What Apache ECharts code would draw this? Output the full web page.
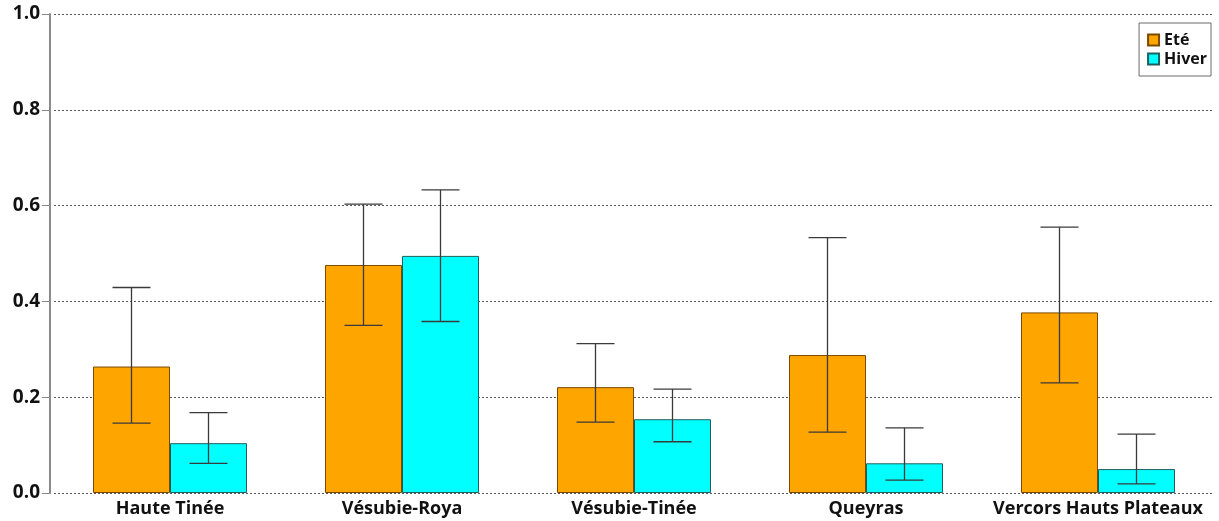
<!DOCTYPE html>
<html>
<head>
<meta charset="utf-8">
<script src="https://cdn.jsdelivr.net/npm/echarts@6/dist/echarts.min.js"></script>
<style>
  html, body { margin: 0; padding: 0; background: #fff; }
  #chart { width: 1219px; height: 521px; }
</style>
</head>
<body>
<div id="chart"></div>
<script>
// Sites and seasonal means with their lower / upper error bounds
const sites = ['Haute Tinée', 'Vésubie-Roya', 'Vésubie-Tinée', 'Queyras', 'Vercors Hauts Plateaux'];
const eteMean  = [0.264, 0.476, 0.221, 0.288, 0.377];
const eteLow   = [0.146, 0.350, 0.148, 0.127, 0.230];
const eteHigh  = [0.429, 0.603, 0.312, 0.533, 0.555];
const hiverMean = [0.104, 0.495, 0.154, 0.062, 0.050];
const hiverLow  = [0.062, 0.358, 0.107, 0.027, 0.019];
const hiverHigh = [0.168, 0.633, 0.217, 0.136, 0.123];
const yTicks = [0, 0.2, 0.4, 0.6, 0.8, 1.0];

const BAR_W = 77;
const CAP_HALF = 19;
const FONT = '"Open Sans", "DejaVu Sans", sans-serif';

function errorSeries(low, high, side) {
  return {
    type: 'custom',
    z: 5,
    silent: true,
    data: sites.map((s, i) => [i, low[i], high[i]]),
    renderItem: function (params, api) {
      const i = api.value(0);
      const pLow = api.coord([i, api.value(1)]);
      const pHigh = api.coord([i, api.value(2)]);
      const x = pLow[0] + side * BAR_W / 2;
      const style = { stroke: '#3a3a3a', lineWidth: 1.3 };
      return {
        type: 'group',
        children: [
          { type: 'line', shape: { x1: x, y1: pLow[1], x2: x, y2: pHigh[1] }, style: style },
          { type: 'line', shape: { x1: x - CAP_HALF, y1: pLow[1], x2: x + CAP_HALF, y2: pLow[1] }, style: style },
          { type: 'line', shape: { x1: x - CAP_HALF, y1: pHigh[1], x2: x + CAP_HALF, y2: pHigh[1] }, style: style }
        ]
      };
    }
  };
}

const chart = echarts.init(document.getElementById('chart'), null, { renderer: 'canvas' });
chart.setOption({
  animation: false,
  backgroundColor: '#ffffff',
  grid: { left: 54, right: 5, top: 14, bottom: 28 },
  legend: {
    right: 8,
    top: 23,
    orient: 'vertical',
    icon: 'rect',
    itemWidth: 11,
    itemHeight: 11,
    itemGap: 3,
    padding: [9, 4, 9, 8],
    borderColor: '#6a6a6a',
    borderWidth: 1,
    backgroundColor: '#ffffff',
    textStyle: { fontFamily: FONT, fontWeight: 'bold', fontSize: 16, color: '#111' },
    data: ['Eté', 'Hiver']
  },
  xAxis: {
    type: 'category',
    data: sites,
    axisLine: { show: false },
    axisTick: { show: false },
    axisLabel: {
      margin: 7,
      fontFamily: FONT, fontWeight: 'bold', fontSize: 18, color: '#111',
      interval: 0
    }
  },
  yAxis: {
    type: 'value',
    min: 0,
    max: 1,
    interval: 0.2,
    offset: 4,
    axisLine: { show: true, lineStyle: { color: '#8a8a8a', width: 2 } },
    axisTick: { show: true, length: 8, lineStyle: { color: '#8a8a8a', width: 1 } },
    axisLabel: {
      margin: 10,
      fontFamily: FONT, fontWeight: 'bold', fontSize: 19, color: '#111',
      formatter: v => yTicks.includes(Math.round(v * 10) / 10) ? v.toFixed(1) : ''
    },
    splitLine: { show: true, lineStyle: { color: '#555', type: [2, 2], width: 1 } }
  },
  series: [
    {
      name: 'Eté', type: 'bar', data: eteMean, barWidth: BAR_W, barGap: '0%',
      itemStyle: { color: '#FFA500', borderColor: '#7a4a00', borderWidth: 1 }
    },
    {
      name: 'Hiver', type: 'bar', data: hiverMean, barWidth: BAR_W, barGap: '0%',
      itemStyle: { color: '#00FFFF', borderColor: '#1f5f5f', borderWidth: 1 }
    },
    errorSeries(eteLow, eteHigh, -1),
    errorSeries(hiverLow, hiverHigh, 1)
  ]
});
</script>
</body>
</html>
